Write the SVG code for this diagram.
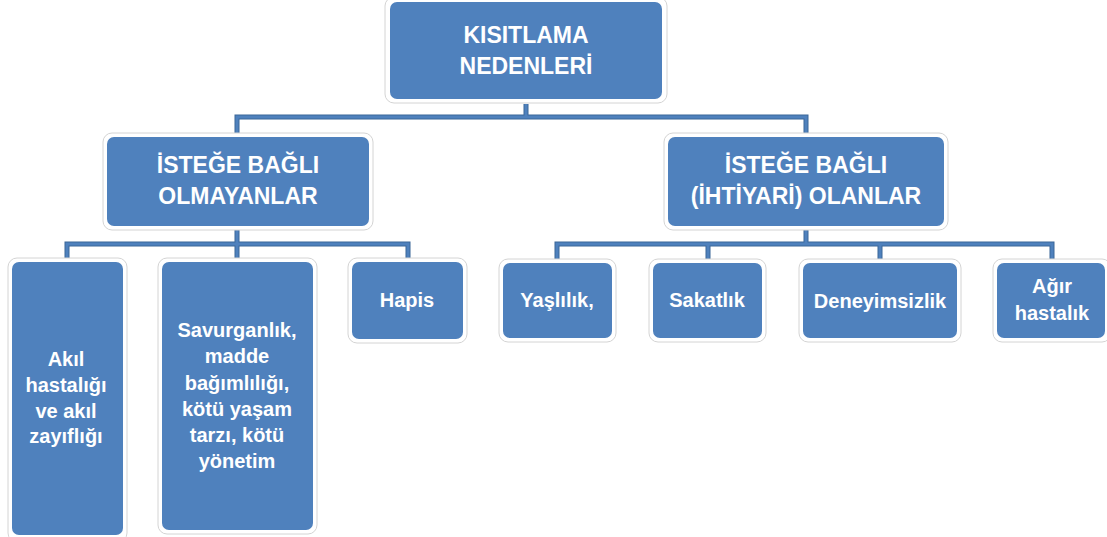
<svg xmlns="http://www.w3.org/2000/svg" xmlns:xlink="http://www.w3.org/1999/xlink" width="1107" height="537" viewBox="0 0 1107 537">
<defs>
<style>
.frame{fill:#ffffff;stroke:#d4d4d4;stroke-width:1}
.box{fill:#4f81bd}
.t{font-family:"Liberation Sans",Arial,sans-serif;font-weight:bold;fill:#ffffff;text-anchor:middle}
.big{font-size:23px}
.sm{font-size:20px}
.lo{fill:none;stroke:#3a6698;stroke-width:5}
.li{fill:none;stroke:#4f81bd;stroke-width:3}
</style>
<path id="c1" d="M526,104 V117 M237,133 V117 H806 V133"/>
<path id="c2" d="M237,230 V244 M67,258 V244 H408 V258 M237,244 V258"/>
<path id="c3" d="M806,230 V244 M557,259 V244 H1052 V259 M708,244 V259 M880,244 V259"/>
</defs>
<rect width="1107" height="537" fill="#ffffff"/>
<g id="connectors">
<use xlink:href="#c1" class="lo"/><use xlink:href="#c1" class="li"/>
<use xlink:href="#c2" class="lo"/><use xlink:href="#c2" class="li"/>
<use xlink:href="#c3" class="lo"/><use xlink:href="#c3" class="li"/>
</g>
<g id="root">
<rect class="frame" x="385" y="-3" width="282" height="106" rx="9"/>
<rect class="box" x="390" y="2" width="272" height="97" rx="7"/>
<text class="t big" x="526" y="43">KISITLAMA</text>
<text class="t big" x="526" y="74">NEDENLERİ</text>
</g>
<g id="istege-bagli-olmayanlar">
<rect class="frame" x="103" y="133" width="270" height="97" rx="9"/>
<rect class="box" x="107" y="137" width="262" height="89" rx="7"/>
<text class="t big" x="238" y="173">İSTEĞE BAĞLI</text>
<text class="t big" x="238" y="204">OLMAYANLAR</text>
</g>
<g id="istege-bagli-olanlar">
<rect class="frame" x="664" y="133" width="284" height="97" rx="9"/>
<rect class="box" x="668" y="137" width="276" height="89" rx="7"/>
<text class="t big" x="806" y="173">İSTEĞE BAĞLI</text>
<text class="t big" x="806" y="204">(İHTİYARİ) OLANLAR</text>
</g>
<g id="akil">
<rect class="frame" x="8" y="258" width="119" height="284" rx="9"/>
<rect class="box" x="12" y="262" width="111" height="273" rx="7"/>
<text class="t sm" x="66" y="366">Akıl</text>
<text class="t sm" x="66" y="392">hastalığı</text>
<text class="t sm" x="66" y="418">ve akıl</text>
<text class="t sm" x="66" y="443">zayıflığı</text>
</g>
<g id="savurganlik">
<rect class="frame" x="158" y="258" width="159" height="276" rx="9"/>
<rect class="box" x="162" y="262" width="151" height="268" rx="7"/>
<text class="t sm" x="237" y="337">Savurganlık,</text>
<text class="t sm" x="237" y="363">madde</text>
<text class="t sm" x="237" y="390">bağımlılığı,</text>
<text class="t sm" x="237" y="416">kötü yaşam</text>
<text class="t sm" x="237" y="442">tarzı, kötü</text>
<text class="t sm" x="237" y="468">yönetim</text>
</g>
<g id="hapis">
<rect class="frame" x="348" y="258" width="119" height="85" rx="9"/>
<rect class="box" x="352" y="262" width="111" height="77" rx="7"/>
<text class="t sm" x="407" y="307">Hapis</text>
</g>
<g id="yaslilik">
<rect class="frame" x="499" y="259" width="117" height="83" rx="9"/>
<rect class="box" x="503" y="263" width="109" height="75" rx="7"/>
<text class="t sm" x="557" y="307">Yaşlılık,</text>
</g>
<g id="sakatlik">
<rect class="frame" x="649" y="259" width="117" height="83" rx="9"/>
<rect class="box" x="653" y="263" width="109" height="75" rx="7"/>
<text class="t sm" x="707" y="307">Sakatlık</text>
</g>
<g id="deneyimsizlik">
<rect class="frame" x="799" y="259" width="162" height="83" rx="9"/>
<rect class="box" x="803" y="263" width="154" height="75" rx="7"/>
<text class="t sm" x="880" y="308">Deneyimsizlik</text>
</g>
<g id="agir-hastalik">
<rect class="frame" x="993" y="259" width="118" height="83" rx="9"/>
<rect class="box" x="997" y="263" width="108" height="75" rx="7"/>
<text class="t sm" x="1052" y="293">Ağır</text>
<text class="t sm" x="1052" y="320">hastalık</text>
</g>
</svg>
